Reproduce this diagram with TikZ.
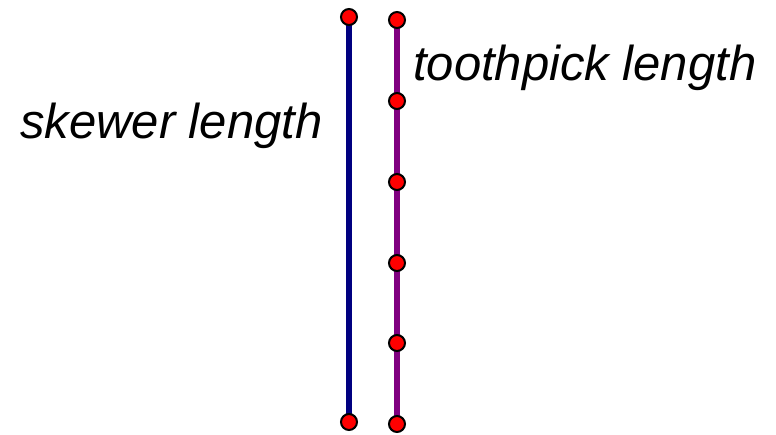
\documentclass[tikz,border=0pt]{standalone}
\usepackage{fontspec}
\setmainfont{Liberation Sans}
\begin{document}
\begin{tikzpicture}[x=1pt,y=-1pt,
  pt/.style={circle,draw=black,fill=red,line width=2pt,minimum size=16pt,inner sep=0pt},
  lbl/.style={anchor=base west,inner sep=0pt,font=\fontsize{49}{58}\selectfont\itshape},
  skewer/.style={line width=5.5pt,color={rgb,255:red,0;green,0;blue,128}},
  toothpick/.style={line width=5.5pt,color={rgb,255:red,128;green,0;blue,128}}]
\useasboundingbox (0,0) rectangle (776,434);
% skewer end points
\coordinate (s0) at (349,17);
\coordinate (s1) at (349,422);
% toothpick marks
\coordinate (t0) at (397,20);
\coordinate (t1) at (397,101);
\coordinate (t2) at (397,182);
\coordinate (t3) at (397,263);
\coordinate (t4) at (397,343);
\coordinate (t5) at (397,424);
\draw[skewer] (s0) -- (s1);
\draw[toothpick] (t0) -- (t5);
\foreach \p in {s0,s1,t0,t1,t2,t3,t4,t5} \node[pt] at (\p) {};
\node[lbl] (sl) at (20,138) {skewer length};
\node[lbl] (tl) at (413,80) {toothpick length};
\end{tikzpicture}
\end{document}
